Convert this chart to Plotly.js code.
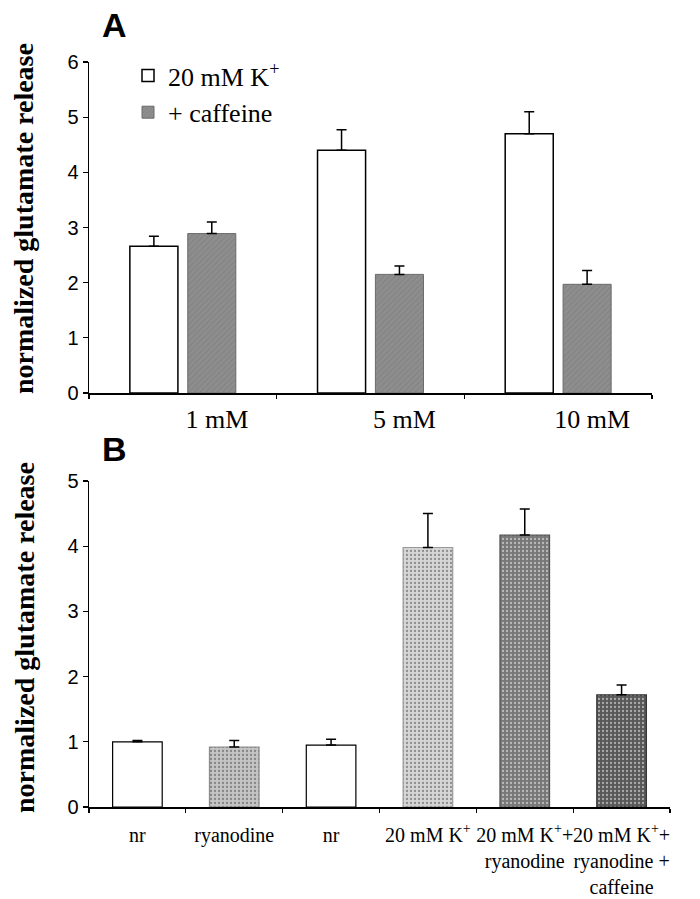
<!DOCTYPE html>
<html>
<head>
<meta charset="utf-8">
<script src="https://cdn.plot.ly/plotly-3.0.1.min.js"></script>
<style>html,body{margin:0;padding:0;background:#fff;}#chart{width:700px;height:899px;}</style>
</head>
<body>
<div id="chart"></div>
<script>
// ---- Panel A data ----
const catsA = ["1 mM", "5 mM", "10 mM"];
const k20A = [2.66, 4.40, 4.70];
const k20ErrA = [0.18, 0.37, 0.40];
const cafA = [2.89, 2.15, 1.97];
const cafErrA = [0.21, 0.15, 0.25];
const seriesNamesA = ["20 mM K<sup>+</sup>", "+ caffeine"];
const yTicksA = [0, 1, 2, 3, 4, 5, 6];

// ---- Panel B data ----
const idsB = ["nr-1", "ryanodine", "nr-2", "K", "K+ry", "K+ry+caf"];
const labelsB = ["nr", "ryanodine", "nr", "20 mM K<sup>+</sup>",
  "20 mM K<sup>+</sup>+<br>ryanodine", "20 mM K<sup>+</sup>+<br>ryanodine +<br>caffeine"];
const valsB = [1.00, 0.92, 0.95, 3.98, 4.17, 1.72];
const errB = [0.02, 0.10, 0.09, 0.52, 0.40, 0.15];
const yTicksB = [0, 1, 2, 3, 4, 5];

const serif = "Liberation Serif, Times New Roman, serif";
const sans = "Liberation Sans, Arial, sans-serif";
const W = 700, H = 899;
const px = v => v / W;
const py = v => 1 - v / H;

const errStyle = {type: "data", symmetric: false, color: "#000", thickness: 1.5, width: 5};

const traces = [
  {
    type: "bar", x: catsA, y: k20A, name: seriesNamesA[0], xaxis: "x", yaxis: "y", legendgroup: "a",
    marker: {color: "#ffffff", line: {color: "#000", width: 1.5}},
    error_y: Object.assign({array: k20ErrA, arrayminus: k20A.map(() => 0)}, errStyle)
  },
  {
    type: "bar", x: catsA, y: cafA, name: seriesNamesA[1], xaxis: "x", yaxis: "y", legendgroup: "b",
    marker: {color: "#8e8e8e", line: {color: "#6a6a6a", width: 1},
      pattern: {shape: "/", fillmode: "overlay", fgcolor: "#777", size: 4, solidity: 0.3}},
    error_y: Object.assign({array: cafErrA, arrayminus: cafA.map(() => 0)}, errStyle)
  },
  {
    type: "bar", x: idsB, y: valsB, name: "B", showlegend: false, xaxis: "x2", yaxis: "y2",
    marker: {
      color: ["#ffffff", "#c4c4c4", "#ffffff", "#d6d6d6", "#777777", "#585858"],
      line: {color: ["#000", "#8a8a8a", "#000", "#9a9a9a", "#555", "#333"], width: 1.2},
      pattern: {shape: ["", ".", "", ".", ".", "."], fillmode: "overlay",
        fgcolor: ["#fff", "#b0b0b0", "#fff", "#c6c6c6", "#666", "#474747"], size: 4, solidity: 0.25}
    },
    error_y: Object.assign({array: errB, arrayminus: valsB.map(() => 0)}, errStyle)
  }
];

const axisCommon = {showgrid: false, zeroline: false, showline: true, linecolor: "#000", linewidth: 1.5,
  ticks: "outside", tickcolor: "#000", ticklen: 5, tickwidth: 1.2};

const layout = {
  width: W, height: H,
  margin: {l: 0, r: 0, t: 0, b: 0},
  paper_bgcolor: "#fff", plot_bgcolor: "#fff",
  barmode: "group", bargap: 0.383, bargroupgap: 0.17,
  showlegend: true,
  legend: {x: px(128), y: py(52), xanchor: "left", yanchor: "top", font: {family: serif, size: 26, color: "#000"},
    bgcolor: "rgba(0,0,0,0)", tracegroupgap: 14, itemwidth: 30, traceorder: "normal"},
  xaxis: Object.assign({}, axisCommon, {domain: [px(89), px(652)], anchor: "y", type: "category",
    tickson: "boundaries", ticklen: 4, ticklabelshift: 34, ticklabelstandoff: 2, tickangle: 0,
    tickfont: {family: serif, size: 26, color: "#000"}}),
  yaxis: Object.assign({}, axisCommon, {domain: [py(393), py(62)], anchor: "x", range: [0, 6],
    tickmode: "array", tickvals: yTicksA, ticktext: yTicksA.map(String),
    tickfont: {family: sans, size: 20, color: "#000"}}),
  xaxis2: Object.assign({}, axisCommon, {domain: [px(89), px(670)], anchor: "y2", type: "category",
    tickson: "boundaries", ticklen: 4, tickmode: "array", tickvals: idsB, ticktext: labelsB,
    tickangle: 0, ticklabelstandoff: 9, tickfont: {family: serif, size: 20, color: "#000"}}),
  yaxis2: Object.assign({}, axisCommon, {domain: [py(807), py(481)], anchor: "x2", range: [0, 5],
    tickmode: "array", tickvals: yTicksB, ticktext: yTicksB.map(String),
    tickfont: {family: sans, size: 20, color: "#000"}}),
  annotations: [
    {text: "<b>A</b>", xref: "paper", yref: "paper", x: px(114), y: py(25), xanchor: "center", yanchor: "middle",
      showarrow: false, font: {family: sans, size: 34, color: "#000"}},
    {text: "<b>B</b>", xref: "paper", yref: "paper", x: px(114), y: py(449), xanchor: "center", yanchor: "middle",
      showarrow: false, font: {family: sans, size: 34, color: "#000"}},
    {text: "<b>normalized glutamate release</b>", xref: "paper", yref: "paper", x: px(23), y: py(219),
      xanchor: "center", yanchor: "middle", textangle: -90, showarrow: false,
      font: {family: serif, size: 28, color: "#000"}},
    {text: "<b>normalized glutamate release</b>", xref: "paper", yref: "paper", x: px(24), y: py(638),
      xanchor: "center", yanchor: "middle", textangle: -90, showarrow: false,
      font: {family: serif, size: 28, color: "#000"}}
  ]
};

Plotly.newPlot("chart", traces, layout, {staticPlot: true});
</script>
</body>
</html>
